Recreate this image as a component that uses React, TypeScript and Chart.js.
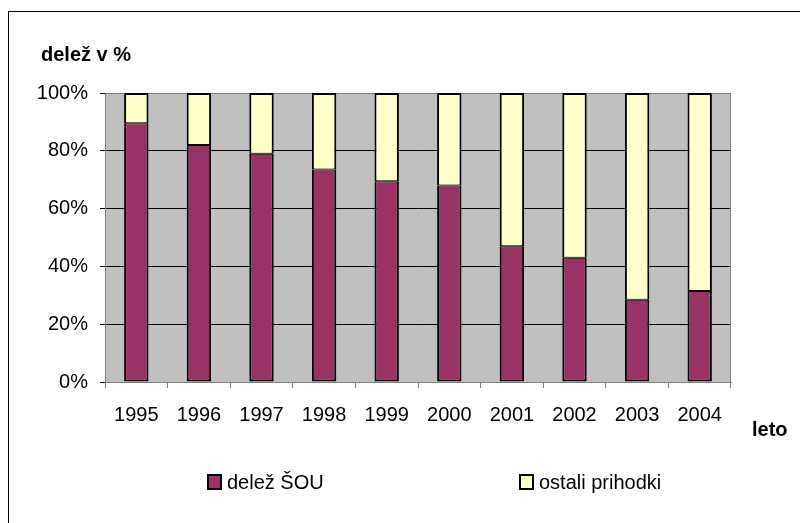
import React, { useEffect, useRef } from "react";
import { Chart, registerables } from "chart.js";

Chart.register(...registerables);

const years = ["1995", "1996", "1997", "1998", "1999", "2000", "2001", "2002", "2003", "2004"];
const delezSOU = [89.5, 82, 79, 73.5, 69.5, 68, 47, 43, 28.5, 31.5];
const ostaliPrihodki = [10.5, 18, 21, 26.5, 30.5, 32, 53, 57, 71.5, 68.5];
const seriesNames = ["delež ŠOU", "ostali prihodki"];
const seriesColors = ["#993366", "#FFFFCC"];
const yTicks = [0, 20, 40, 60, 80, 100];

const FONT = "'Liberation Sans', Arial, sans-serif";

const plotPlugin = {
  id: "plotBg",
  beforeDraw(chart: any) {
    const { ctx, chartArea: a } = chart;
    ctx.save();
    ctx.fillStyle = "#C0C0C0";
    ctx.fillRect(a.left, a.top, a.right - a.left, a.bottom - a.top);
    ctx.restore();
  },
  beforeDatasetsDraw(chart: any) {
    const { ctx, chartArea: a } = chart;
    ctx.save();
    ctx.strokeStyle = "#808080";
    ctx.lineWidth = 1;
    ctx.strokeRect(a.left + 0.5, a.top + 0.5, a.right - a.left - 1, a.bottom - a.top);
    ctx.restore();
  },
};

export default function App() {
  const ref = useRef<HTMLCanvasElement | null>(null);

  useEffect(() => {
    if (!ref.current) return;
    const ds = (i: number, data: number[], bw: any) => ({
      label: seriesNames[i],
      data,
      backgroundColor: seriesColors[i],
      borderColor: "#000000",
      borderWidth: bw,
      borderSkipped: false as const,
      barPercentage: 0.39,
      categoryPercentage: 1,
    });
    const chart = new Chart(ref.current, {
      type: "bar",
      data: {
        labels: years,
        datasets: [
          ds(0, delezSOU, { top: 1, bottom: 2, left: 2, right: 2 }),
          ds(1, ostaliPrihodki, { top: 2, bottom: 1, left: 2, right: 2 }),
        ],
      },
      options: {
        animation: false,
        responsive: false,
        maintainAspectRatio: false,
        layout: { padding: { left: 10, right: 69, top: 93, bottom: 81 } },
        plugins: {
          legend: { display: false },
          tooltip: { enabled: false },
          title: { display: false },
        },
        scales: {
          x: {
            stacked: true,
            offset: true,
            afterFit: (s: any) => {
              s.height = 60;
            },
            grid: {
              offset: true,
              drawOnChartArea: false,
              drawTicks: true,
              tickLength: 6,
              color: "#808080",
            },
            border: { display: true, color: "#808080", width: 1 },
            ticks: {
              color: "#000000",
              padding: 15,
              font: { family: FONT, size: 20 },
              maxRotation: 0,
            },
          },
          y: {
            stacked: true,
            min: 0,
            max: 100,
            afterFit: (s: any) => {
              s.width = 95;
            },
            afterBuildTicks: (s: any) => {
              s.ticks = yTicks.map((v) => ({ value: v }));
            },
            grid: {
              color: "#000000",
              tickLength: 5,
              drawTicks: true,
            },
            border: { display: true, color: "#808080", width: 1 },
            ticks: {
              color: "#000000",
              padding: 12,
              font: { family: FONT, size: 20 },
              callback: (v: any) => v + "%",
            },
          },
        },
      },
      plugins: [plotPlugin],
    });
    return () => chart.destroy();
  }, []);

  const textStyle: React.CSSProperties = {
    position: "absolute",
    fontFamily: FONT,
    fontSize: 20,
    color: "#000",
    lineHeight: "20px",
    whiteSpace: "nowrap",
  };

  return (
    <div style={{ position: "fixed", left: 0, top: 0, width: 800, height: 523, overflow: "hidden", background: "#fff" }}>
      <div
        style={{
          position: "absolute",
          left: 8,
          top: 11,
          width: 792,
          height: 512,
          borderLeft: "1px solid #000",
          borderTop: "1px solid #000",
        }}
      />
      <canvas ref={ref} width={800} height={523} style={{ position: "absolute", left: 0, top: 0 }} />
      <div style={{ ...textStyle, left: 41, top: 44, fontWeight: "bold", fontSize: 20 }}>delež v %</div>
      <div style={{ ...textStyle, left: 752, top: 419, fontWeight: "bold", fontSize: 20 }}>leto</div>
      {seriesNames.map((n, i) => (
        <div key={n} style={{ position: "absolute", left: i === 0 ? 207 : 519, top: 472, height: 20 }}>
          <div
            style={{
              position: "absolute",
              left: 0,
              top: 2,
              width: 11,
              height: 12,
              background: seriesColors[i],
              border: "2px solid #000",
            }}
          />
          <div style={{ ...textStyle, left: 20, top: 0 }}>{n}</div>
        </div>
      ))}
    </div>
  );
}
